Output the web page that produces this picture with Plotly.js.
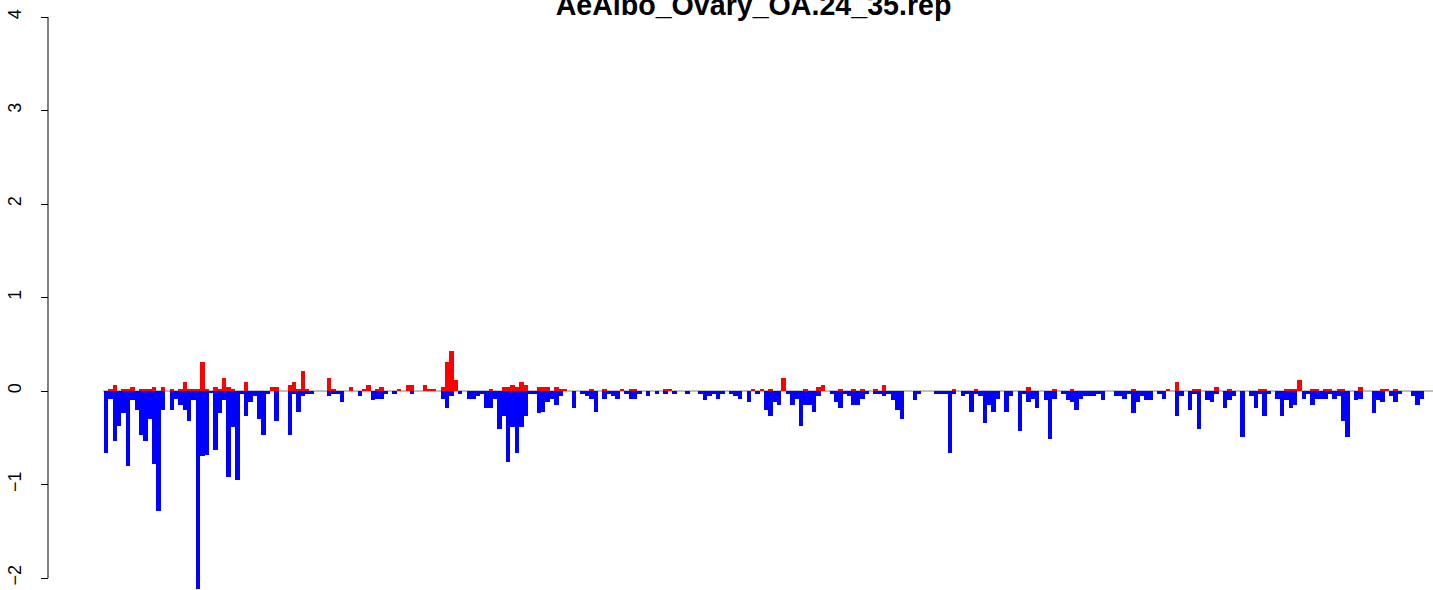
<!DOCTYPE html>
<html>
<head>
<meta charset="utf-8">
<script src="https://cdn.plot.ly/plotly-3.0.1.min.js"></script>
<style>html,body{margin:0;padding:0;background:#fff;}#chart{width:1433px;height:590px;}</style>
</head>
<body>
<div id="chart"></div>
<script>
// Chart title and y tick values
var chartTitle = "AeAlbo_Ovary_OA.24_35.rep";
var yTicks = [-2, -1, 0, 1, 2, 3, 4];

// Positive (red) values per bar, bars 0..301
var redA = [0,0.02,0.064,0,0.02,0.02,0.04,0,0.02,0.02,0.02,0.04,0,0.04,0,0.02,0,0.02,0.10,0.02,0.02,0.02,0.31,0.02,0,0.04,0.02,0.14,0.04,0.02,0,0,0.10,0,0,0,0,0,0.04,0.04,0,0,0.064,0.10,0.02,0.21,0.02,0,0,0];
var redB = [0,0.14,0.02,0,0,0,0.04,0,0,0.02,0.064,0,0.02,0.04,0,0,0,0.02,0,0.064,0.064,0,0,0.064,0.02,0.02,0,0.04,0.31,0.43,0.12,0,0,0,0,0,0,0,0.02,0,0,0.04,0.04,0.064,0.04,0.10,0.064,0,0,0.04];
var redC = [0.04,0.04,0,0.04,0.02,0.02,0,0,0,0,0,0.02,0,0,0.02,0,0,0,0.02,0,0.02,0.02,0,0,0,0,0,0,0.02,0.02,0,0,0,0,0,0,0,0,0,0,0,0,0,0,0,0,0,0,0.02,0];
var redD = [0.02,0,0.02,0,0,0.14,0,0,0,0,0.02,0,0,0.04,0.064,0,0,0,0.02,0,0,0.02,0,0.02,0,0,0.02,0,0.064,0,0,0,0,0,0,0,0,0,0,0,0,0,0,0,0.02,0,0,0,0,0.02];
var redE = [0,0,0,0,0,0,0,0,0,0,0,0.04,0,0,0,0,0,0.02,0,0,0,0.02,0,0,0,0,0,0,0,0,0,0,0,0,0,0.02,0,0,0,0,0,0,0,0.02,0,0.10,0,0,0,0.02];
var redF = [0.02,0,0,0,0.04,0,0,0.02,0,0,0,0,0,0,0.02,0.02,0,0,0,0,0.02,0.02,0.02,0.12,0,0,0.02,0.02,0,0.02,0.02,0,0.02,0.02,0,0,0,0.04,0,0,0,0,0.02,0.02,0,0.02,0,0,0,0,0,0];

// Negative (blue) values per bar, bars 0..301
var blueA = [-0.66,-0.08,-0.53,-0.37,-0.24,-0.80,-0.10,-0.20,-0.47,-0.53,-0.30,-0.78,-1.28,-0.20,0,-0.20,-0.08,-0.15,-0.20,-0.32,-0.10,-2.12,-0.70,-0.68,-0.02,-0.63,-0.24,-0.10,-0.92,-0.39,-0.95,-0.03,-0.27,-0.12,-0.05,-0.30,-0.47,-0.03,0,-0.32,0,0,-0.47,-0.03,-0.22,-0.05,-0.03,-0.03,0,0];
var blueB = [0,-0.05,-0.03,-0.03,-0.12,0,0,0,-0.05,0,0,-0.10,-0.08,-0.08,-0.03,0,-0.03,0,0,0,-0.03,0,0,0,0,0,0,-0.08,-0.18,-0.05,0,-0.03,0,-0.08,-0.08,-0.05,-0.03,-0.18,-0.18,-0.08,-0.41,-0.27,-0.76,-0.39,-0.66,-0.39,-0.27,-0.03,-0.03,-0.24];
var blueC = [-0.22,-0.12,-0.08,-0.15,-0.05,0,0,-0.18,0,-0.03,-0.05,-0.08,-0.22,0,-0.08,-0.03,-0.05,-0.08,0,-0.03,-0.08,-0.08,-0.03,0,-0.05,0,-0.03,0,-0.03,0,-0.03,0,0,-0.03,0,0,-0.03,-0.10,-0.05,-0.03,-0.08,-0.03,0,-0.03,-0.05,-0.08,0,-0.12,0,-0.03];
var blueD = [0,-0.20,-0.27,-0.12,-0.15,0,-0.03,-0.15,-0.08,-0.37,-0.15,-0.15,-0.22,-0.05,0,0,-0.03,-0.12,-0.18,-0.03,-0.05,-0.15,-0.15,-0.08,-0.03,0,-0.03,-0.03,-0.05,-0.03,-0.10,-0.20,-0.30,0,0,-0.10,-0.03,0,0,0,-0.03,-0.03,-0.03,-0.66,-0.03,0,-0.05,-0.03,-0.22,-0.03];
var blueE = [-0.05,-0.34,-0.15,-0.22,-0.08,0,-0.22,-0.05,0,-0.43,-0.03,-0.12,-0.08,-0.18,0,-0.10,-0.51,-0.08,0,-0.03,-0.10,-0.12,-0.20,-0.08,-0.05,-0.05,-0.05,-0.03,-0.10,0,0,-0.05,-0.05,-0.08,-0.03,-0.24,-0.12,-0.05,-0.10,-0.10,0,-0.03,-0.08,0,0,-0.27,-0.05,0,-0.20,-0.03];
var blueF = [-0.41,0,-0.10,-0.12,-0.03,0,-0.18,-0.10,-0.05,0,-0.49,0,-0.05,-0.18,-0.03,-0.27,-0.03,0,-0.08,-0.27,-0.10,-0.18,-0.15,0,-0.08,-0.03,-0.15,-0.08,-0.08,-0.08,-0.03,-0.08,-0.05,-0.32,-0.49,0,-0.10,-0.08,0,0,-0.24,-0.10,-0.12,0,-0.05,-0.12,-0.03,0,0,-0.05,-0.15,-0.08];

var redVals = redA.concat(redB, redC, redD, redE, redF);
var blueVals = blueA.concat(blueB, blueC, blueD, blueE, blueF);
var barIdx = redVals.map(function (_, i) { return i; });

var yMin = -2.128, yMax = 4;
function py(v) { return (v - yMin) / (yMax - yMin); }

var fontFam = "Liberation Sans, Arial, Helvetica, sans-serif";

var traces = [
  { type: "bar", x: barIdx, y: redVals, marker: { color: "#FF0000", line: { width: 0 } }, hoverinfo: "skip" },
  { type: "bar", x: barIdx, y: blueVals, marker: { color: "#0000FF", line: { width: 0 } }, hoverinfo: "skip" }
];

var layout = {
  width: 1433, height: 590,
  margin: { l: 48, r: 9, t: 17, b: 0, pad: 0 },
  paper_bgcolor: "#ffffff", plot_bgcolor: "#ffffff",
  showlegend: false,
  barmode: "overlay", bargap: 0,
  title: {
    text: "<b>" + chartTitle + "</b>",
    font: { family: fontFam, size: 28.6, color: "#000000" },
    xref: "container", x: 753.5 / 1433, xanchor: "center",
    yref: "container", y: 1 - 15 / 590, yanchor: "bottom"
  },
  xaxis: {
    domain: [56 / 1376, 1],
    range: [-0.5, barIdx.length - 0.5],
    visible: false, fixedrange: true
  },
  yaxis: {
    range: [yMin, yMax],
    anchor: "free", position: 0,
    tickvals: yTicks,
    ticktext: yTicks.map(function (v) { return v < 0 ? "\u2212" + Math.abs(v) : String(v); }),
    tickangle: -90,
    ticks: "outside", ticklen: 7, tickwidth: 1, tickcolor: "#000000",
    ticklabelstandoff: 13,
    tickfont: { family: fontFam, size: 18, color: "#000000" },
    showline: false, showgrid: false, zeroline: false, fixedrange: true
  },
  shapes: [
    { type: "line", layer: "below", xref: "paper", yref: "paper",
      x0: 55 / 1376, x1: 1.01, y0: py(0), y1: py(0),
      line: { color: "#808080", width: 1 } },
    { type: "line", layer: "above", xref: "paper", yref: "paper",
      x0: 0, x1: 0, y0: py(-2), y1: py(4),
      line: { color: "#000000", width: 1 } }
  ]
};

Plotly.newPlot("chart", traces, layout, { staticPlot: true, displayModeBar: false });
</script>
</body>
</html>
